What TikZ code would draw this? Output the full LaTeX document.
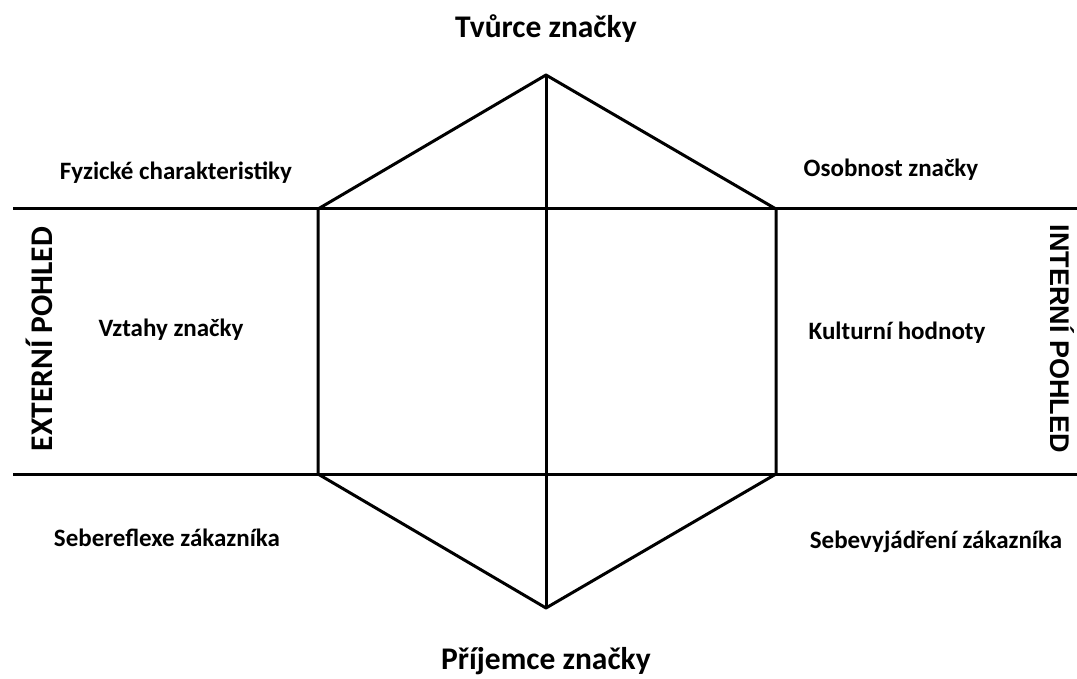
\documentclass[tikz,border=0pt]{standalone}
\usepackage{fontspec}
\setmainfont{Carlito}
\newfontfamily\arialfont{Liberation Sans}
\begin{document}
\begin{tikzpicture}[x=1pt,y=-1pt,
  edge/.style={line width=3pt, line join=round},
  lbl/.style={font=\bfseries\fontsize{25}{29}\selectfont, inner sep=0pt},
  title/.style={font=\bfseries\fontsize{31.5}{36}\selectfont, inner sep=0pt}]
\useasboundingbox (0,0) rectangle (1077,679);
\coordinate (T) at (546,75);
\coordinate (UL) at (318,209);
\coordinate (UR) at (776,209);
\coordinate (LL) at (318,474);
\coordinate (LR) at (776,474);
\coordinate (B) at (546,608);
\coordinate (HL1) at (13,209);
\coordinate (HR1) at (1077,209);
\coordinate (HL2) at (13,474);
\coordinate (HR2) at (1077,474);
\draw[edge] (T) -- (UR) -- (LR) -- (B) -- (LL) -- (UL) -- cycle;
\draw[edge] (T) -- (B);
\draw[edge] (HL1) -- (HR1);
\draw[edge] (HL2) -- (HR2);
\node[title] (tv) at (546,29) {Tvůrce značky};
\node[title] (pr) at (546,661) {Příjemce značky};
\node[lbl] (fy) at (176,173) {Fyzické charakteristiky};
\node[lbl] (os) at (891,170) {Osobnost značky};
\node[lbl] (vz) at (171,330) {Vztahy značky};
\node[lbl] (ku) at (897,333) {Kulturní hodnoty};
\node[lbl] (se) at (167,538) {Sebereflexe zákazníka};
\node[lbl] (sv) at (936,542) {Sebevyjádření zákazníka};
\node[title, rotate=90] (ex) at (39,339) {EXTERNÍ POHLED};
\node[inner sep=0pt, rotate=-90, font=\arialfont\bfseries\fontsize{27}{31}\selectfont] (in) at (1062,339) {INTERNÍ POHLED};
\end{tikzpicture}
\end{document}
